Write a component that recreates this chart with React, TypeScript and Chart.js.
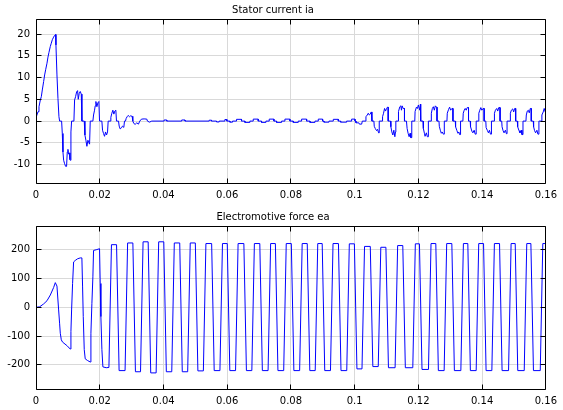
import React, { useEffect, useRef } from 'react';
import { Chart, registerables } from 'chart.js';

Chart.register(...registerables);

// ---------- axis ticks ----------
const xTicks = [0, 0.02, 0.04, 0.06, 0.08, 0.1, 0.12, 0.14, 0.16];
const xTickLabels = ['0', '0.02', '0.04', '0.06', '0.08', '0.1', '0.12', '0.14', '0.16'];
const iaTicks = [-10, -5, 0, 5, 10, 15, 20];
const emfTicks = [-200, -100, 0, 100, 200];
const iaRange = [-14.23, 23.46];
const emfRange = [-284, 283];

const iaTitle = 'Stator current ia';
const emfTitle = 'Electromotive force ea';

// ---------- stator current ia : [time s, current A] ----------
const iaStartup: [number, number][] = [
  [0, 0], [0.0001, 1.0], [0.00063, 2.15], [0.00094, 3.3], [0.00136, 4.85], [0.00167, 5.6],
  [0.00198, 7.15], [0.0024, 9.1], [0.00271, 10.6], [0.00303, 11.8], [0.00345, 13.3],
  [0.00376, 14.7], [0.00407, 15.8], [0.00449, 17.15], [0.0048, 17.9], [0.00512, 18.7],
  [0.00553, 19.3], [0.00585, 19.7], [0.00616, 19.9], [0.00626, 17.5], [0.00658, 10.6],
  [0.00689, 5.2], [0.0072, 1.0], [0.00741, 0], [0.00804, 0], [0.00825, -2.85], [0.00846, -7.1],
  [0.00867, -9.0], [0.00898, -9.8], [0.00929, -10.4], [0.0096, -10.4], [0.00981, -7.1],
  [0.01002, -6.5], [0.01023, -7.6], [0.01044, -7.3], [0.01065, -8.85], [0.01075, -9.0],
  [0.01096, -2.5], [0.01117, 0], [0.0119, 0], [0.01211, 4.85], [0.01242, 5.6], [0.01274, 6.7],
  [0.01305, 7.0], [0.01326, 5.0], [0.01357, 6.4], [0.01389, 6.8], [0.0142, 6.2], [0.01441, 0],
  [0.01514, 0], [0.01535, -3.2], [0.01566, -4.4], [0.01597, -5.8], [0.01629, -4.4], [0.0166, -5.0],
  [0.01681, -5.3], [0.01702, 0], [0.01785, 0], [0.01806, 1.4], [0.01837, 2.5], [0.01858, 3.5],
  [0.01879, 4.5], [0.0191, 3.3], [0.01942, 4.2], [0.01973, 4.5], [0.01994, 0], [0.02067, 0],
  [0.02088, -2.1], [0.02119, -2.85], [0.02151, -3.5], [0.02182, -2.5], [0.02213, -3.2],
  [0.02245, -2.5], [0.02265, 0], [0.02328, 0], [0.02349, 0.85], [0.0238, 1.8], [0.02412, 2.5],
  [0.02443, 1.6], [0.02474, 2.3], [0.02506, 2.5], [0.02526, 0], [0.02589, 0], [0.0261, -1.15],
  [0.02641, -1.8], [0.02683, -1.55], [0.02714, -1.15], [0.02756, -1.45], [0.02777, 0],
  [0.02808, 0], [0.02829, 0.6], [0.0286, 1.0], [0.02892, 1.3], [0.02934, 1.0], [0.02965, 1.2],
  [0.03017, 1.1], [0.03038, 0], [0.0307, -0.55], [0.03111, -0.75], [0.03163, -0.4],
  [0.03215, -0.7], [0.03257, 0], [0.0331, 0.45], [0.03393, 0.5], [0.03477, 0.45], [0.03497, 0],
  [0.0356, -0.25], [0.03633, 0], [0.04020, 0], [0.04020, 0.25], [0.04103, 0.25], [0.04103, 0],
  [0.04572, 0], [0.04572, 0.25], [0.04677, 0.25], [0.04677, 0],
];

const iaIdleRipple: [number, number][] = [
  [0.05435, 0], [0.05435, 0.2], [0.05508, 0.2], [0.05508, 0],
  [0.05665, 0], [0.05665, -0.2], [0.05749, -0.2], [0.05749, 0],
  [0.05927, 0], [0.05927, 0.35], [0.0599, 0.35], [0.0599, 0],
  [0.06084, 0], [0.06084, -0.25], [0.06168, -0.25], [0.06168, 0],
  [0.06293, 0], [0.06293, 0.4], [0.0645, 0.4], [0.0645, 0],
  [0.06555, 0], [0.06555, -0.3], [0.06712, -0.3], [0.06712, 0],
  [0.06817, 0], [0.06817, 0.45], [0.06974, 0.45], [0.06974, 0],
  [0.07078, 0], [0.07078, -0.3], [0.07215, -0.3], [0.07215, 0],
  [0.07319, 0], [0.07319, 0.45], [0.07466, 0.45], [0.07466, 0],
  [0.0755, 0], [0.0755, -0.3], [0.07707, -0.3], [0.07707, 0],
  [0.07811, 0], [0.07811, 0.45], [0.07968, 0.45], [0.07968, 0],
  [0.08073, 0], [0.08073, -0.3], [0.0823, -0.3], [0.0823, 0],
  [0.08335, 0], [0.08335, 0.45], [0.08492, 0.45], [0.08492, 0],
  [0.08597, 0], [0.08597, -0.3], [0.08754, -0.3], [0.08754, 0],
  [0.08858, 0], [0.08858, 0.45], [0.08994, 0.45], [0.08994, 0],
  [0.09036, 0], [0.09036, -0.25], [0.09193, -0.25], [0.09193, 0],
  [0.09329, 0], [0.09329, 0.4], [0.09487, 0.4], [0.09487, 0],
  [0.0956, 0], [0.0956, -0.25], [0.09748, -0.25], [0.09748, 0],
  [0.09905, 0], [0.09905, 0.45], [0.1001, 0.45], [0.1001, 0],
  [0.10041, 0], [0.10041, -0.4], [0.1013, -0.4], [0.1015, -0.7], [0.10219, -0.7], [0.1024, 0],
];

const iaLoaded: [number, number][] = [
  [0.10354, 0], [0.10354, 1.0], [0.10396, 1.4], [0.10427, 1.8], [0.10459, 1.4], [0.1049, 1.6], [0.10521, 2.1], [0.10542, 2.1], [0.10542, 0],
  [0.10604, 0], [0.10615, -1.2], [0.10646, -1.7], [0.10688, -2.2], [0.10719, -1.9], [0.1075, -2.7], [0.10771, -2.7], [0.10771, 0],
  [0.10875, 0], [0.10875, 1.0], [0.10906, 1.8], [0.10938, 2.9], [0.10969, 2.3], [0.11, 2.9], [0.11031, 3.2], [0.11052, 3.2], [0.11052, 0],
  [0.11125, 0], [0.11136, -1.3], [0.11167, -2.5], [0.11198, -3.2], [0.11229, -2.1], [0.11261, -3.6], [0.11281, -2.5], [0.11292, -2.5], [0.11292, 0],
  [0.11365, 0], [0.11375, 2.2], [0.11417, 3.3], [0.11448, 3.5], [0.11469, 2.5], [0.1149, 3.5], [0.11521, 2.9], [0.11563, 2.9], [0.11563, 0],
  [0.11625, 0], [0.11646, -1.7], [0.11677, -2.8], [0.11709, -3.6], [0.1174, -2.8], [0.11761, -3.8], [0.11792, -3.8], [0.11792, 0],
  [0.11886, 0], [0.11896, 2.2], [0.11938, 3.2], [0.11969, 2.9], [0.12, 3.7], [0.12042, 2.5], [0.12063, 3.9], [0.12073, 3.9], [0.12073, 0],
  [0.12146, 0], [0.12156, -1.7], [0.12188, -2.8], [0.12209, -3.5], [0.1225, -2.7], [0.12281, -3.6], [0.12313, -3.6], [0.12313, 0],
  [0.12396, 0], [0.12406, 1.8], [0.12438, 2.9], [0.12469, 3.3], [0.125, 2.5], [0.12531, 3.5], [0.12563, 3.2], [0.12584, 3.2], [0.12584, 0],
  [0.12646, 0], [0.12656, -1.2], [0.12688, -2.1], [0.12719, -2.8], [0.1275, -2.5], [0.12781, -3.0], [0.12813, -3.0], [0.12813, 0],
  [0.12896, 0], [0.12906, 1.8], [0.12948, 2.7], [0.12979, 3.2], [0.13011, 2.5], [0.13052, 2.9], [0.13084, 2.9], [0.13084, 0],
  [0.13157, 0], [0.13167, -1.3], [0.13209, -2.2], [0.1324, -2.8], [0.13271, -2.5], [0.13292, -3.1], [0.13323, -3.1], [0.13323, 0],
  [0.13396, 0], [0.13407, 1.8], [0.13438, 2.5], [0.13469, 2.9], [0.135, 2.5], [0.13532, 3.1], [0.13573, 3.1], [0.13573, 0],
  [0.13625, 0], [0.13636, -1.3], [0.13677, -2.3], [0.13709, -2.7], [0.1375, -2.1], [0.13782, -3.0], [0.13813, -3.0], [0.13813, 0],
  [0.13886, 0], [0.13896, 1.8], [0.13927, 2.5], [0.13959, 3.1], [0.1399, 2.5], [0.14032, 2.9], [0.14063, 2.9], [0.14063, 0],
  [0.14115, 0], [0.14125, -1.5], [0.14167, -2.2], [0.14198, -2.7], [0.14229, -2.1], [0.14261, -3.0], [0.14292, -3.0], [0.14292, 0],
  [0.14375, 0], [0.14386, 1.8], [0.14417, 2.5], [0.14459, 2.9], [0.1449, 2.3], [0.14521, 3.1], [0.14563, 3.1], [0.14563, 0],
  [0.14615, 0], [0.14625, -1.3], [0.14657, -2.2], [0.14688, -2.7], [0.1473, -2.1], [0.14761, -2.9], [0.14782, -2.9], [0.14782, 0],
  [0.14875, 0], [0.14886, 1.8], [0.14917, 2.5], [0.14959, 2.8], [0.1499, 2.1], [0.15021, 2.9], [0.15052, 2.9], [0.15052, 0],
  [0.15104, 0], [0.15115, -1.3], [0.15157, -2.2], [0.15188, -2.7], [0.1523, -2.1], [0.1525, -3.1], [0.15282, -3.1], [0.15282, 0],
  [0.15375, 0], [0.15386, 1.4], [0.15417, 2.3], [0.15448, 2.5], [0.1548, 1.9], [0.15511, 2.9], [0.15542, 2.9], [0.15542, 0],
  [0.15605, 0], [0.15615, -1.3], [0.15646, -2.2], [0.15678, -2.7], [0.15719, -2.1], [0.1575, -3.0], [0.15782, -3.0], [0.15782, 0],
  [0.15865, 0], [0.15875, 1.4], [0.15917, 2.1], [0.15948, 2.9], [0.1598, 2.1], [0.16, 2.6],
];

// ---------- electromotive force ea : [time s, emf V] ----------
const emfStartup: [number, number][] = [
  [0, 0], [0.00115, 2], [0.0024, 12], [0.00345, 23], [0.0045, 43], [0.00553, 69], [0.00606, 86],
  [0.00658, 74], [0.0071, -9], [0.0074, -55], [0.00762, -90], [0.00794, -113], [0.00835, -121],
  [0.0097, -133], [0.01075, -145], [0.01096, -84], [0.01117, -9], [0.01148, 83], [0.0118, 158],
  [0.0123, 163], [0.01305, 169], [0.01389, 172], [0.0144, 172], [0.01462, 71], [0.01483, -32],
  [0.01514, -147], [0.01545, -179], [0.01618, -185], [0.01702, -190], [0.01723, -90],
  [0.01754, 14], [0.01785, 106], [0.01806, 198], [0.0191, 201], [0.01994, 204], [0.02015, 83],
  [0.02036, -32], [0.02068, -147], [0.02099, -207], [0.02203, -210], [0.02288, -209],
];

const emfSteady: [number, number][] = [
  [0.02368, 218], [0.02528, 218], [0.02608, -220], [0.02795, -220], [0.02875, 224], [0.0304, 224],
  [0.0312, -224], [0.0328, -224], [0.0336, 228], [0.0352, 228], [0.036, -228], [0.0377, -228],
  [0.0385, 228], [0.0401, 228], [0.0409, -224], [0.0426, -224], [0.0434, 224], [0.0451, 224],
  [0.0459, -224], [0.0476, -224], [0.0484, 224], [0.05, 224], [0.0508, -221], [0.05252, -221],
  [0.05332, 222], [0.05512, 222], [0.05592, -220], [0.05772, -220], [0.05852, 222], [0.06002, 222],
  [0.06082, -220], [0.06262, -220], [0.06342, 222], [0.06523, 222], [0.06603, -220], [0.06773, -220],
  [0.06853, 222], [0.07023, 222], [0.07103, -220], [0.07283, -220], [0.07363, 222], [0.07512, 222],
  [0.07592, -220], [0.07773, -220], [0.07853, 222], [0.08012, 222], [0.08092, -220], [0.08273, -220],
  [0.08353, 222], [0.08512, 222], [0.08592, -220], [0.08762, -220], [0.08842, 222], [0.08981, 222],
  [0.09061, -220], [0.09241, -220], [0.09321, 222], [0.09491, 222], [0.09571, -220], [0.09752, -220],
  [0.09832, 221], [0.09991, 221], [0.10071, -214], [0.1023, -214], [0.1031, 212], [0.1049, 212],
  [0.1057, -206], [0.1074, -206], [0.1082, 209], [0.1098, 209], [0.1106, -210], [0.11269, -210],
  [0.11349, 215], [0.1151, 215], [0.1159, -210], [0.11824, -210], [0.11904, 221], [0.12033, 221],
  [0.12113, -216], [0.12316, -216], [0.12396, 222], [0.12546, 222], [0.12626, -220], [0.12808, -220],
  [0.12888, 222], [0.13049, 222], [0.13129, -220], [0.13332, -220], [0.13412, 222], [0.13551, 222],
  [0.13631, -220], [0.13813, -220], [0.13893, 222], [0.14044, 222], [0.14124, -220], [0.14305, -220],
  [0.14385, 222], [0.14546, 222], [0.14626, -220], [0.14829, -220], [0.14909, 222], [0.15038, 222],
  [0.15118, -220], [0.15321, -220], [0.15401, 222], [0.1553, 222], [0.1561, -220], [0.15824, -220],
  [0.15904, 222], [0.16, 222],
];

const FONT = "'DejaVu Sans', sans-serif";

const alignPx = (p: number) => Math.round(p - 0.5) + 0.5;

const boxPlugin = {
  id: 'matlabBox',
  afterDraw(chart: any) {
    const { ctx, chartArea: a } = chart;
    const L = alignPx(a.left), R = alignPx(a.right), T = alignPx(a.top), B = alignPx(a.bottom);
    const xs = chart.scales.x, ys = chart.scales.y;
    ctx.save();
    ctx.strokeStyle = '#000';
    ctx.lineWidth = 1;
    ctx.beginPath();
    ctx.rect(L, T, R - L, B - T);
    xs.ticks.forEach((t: any) => {
      const px = alignPx(xs.getPixelForValue(t.value));
      ctx.moveTo(px, B); ctx.lineTo(px, B - 5);
      ctx.moveTo(px, T); ctx.lineTo(px, T + 5);
    });
    ys.ticks.forEach((t: any) => {
      const py = alignPx(ys.getPixelForValue(t.value));
      ctx.moveTo(L, py); ctx.lineTo(L + 5, py);
      ctx.moveTo(R, py); ctx.lineTo(R - 5, py);
    });
    ctx.stroke();
    ctx.restore();
  },
};

function makeConfig(
  title: string,
  points: [number, number][],
  yRange: number[],
  yTicks: number[],
  titlePad: { top: number; bottom: number },
  xAxisHeight: number,
): any {
  return {
    type: 'line',
    data: {
      datasets: [
        {
          data: points.map(([x, y]) => ({ x, y })),
          borderColor: '#0000ff',
          borderWidth: 1,
          pointRadius: 0,
          tension: 0,
          fill: false,
        },
      ],
    },
    options: {
      animation: false,
      responsive: false,
      maintainAspectRatio: false,
      devicePixelRatio: 1,
      events: [],
      layout: { padding: { left: 0, right: 17, top: 0, bottom: 0 } },
      plugins: {
        legend: { display: false },
        tooltip: { enabled: false },
        title: {
          display: true,
          text: title,
          color: '#000',
          font: { family: FONT, size: 10, weight: 'normal' },
          padding: titlePad,
        },
      },
      scales: {
        x: {
          type: 'linear',
          min: 0,
          max: 0.16,
          afterBuildTicks: (s: any) => {
            s.ticks = xTicks.map((v) => ({ value: v }));
          },
          afterFit: (s: any) => {
            s.height = xAxisHeight;
          },
          ticks: {
            callback: (_v: any, i: number) => xTickLabels[i],
            color: '#000',
            padding: 6,
            maxRotation: 0,
            autoSkip: false,
            font: { family: FONT, size: 10 },
          },
          grid: { color: '#d9d9d9', drawTicks: false, lineWidth: 1 },
          border: { display: false },
        },
        y: {
          type: 'linear',
          min: yRange[0],
          max: yRange[1],
          afterBuildTicks: (s: any) => {
            s.ticks = yTicks.map((v) => ({ value: v }));
          },
          afterFit: (s: any) => {
            s.width = 36;
          },
          ticks: {
            callback: (v: any) => String(v),
            color: '#000',
            padding: 6,
            autoSkip: false,
            font: { family: FONT, size: 10 },
          },
          grid: { color: '#d9d9d9', drawTicks: false, lineWidth: 1 },
          border: { display: false },
        },
      },
    },
    plugins: [boxPlugin],
  };
}

export default function App() {
  const topRef = useRef<HTMLCanvasElement | null>(null);
  const botRef = useRef<HTMLCanvasElement | null>(null);

  useEffect(() => {
    Chart.defaults.font.family = FONT;
    Chart.defaults.font.size = 10;
    Chart.defaults.color = '#000';
    const iaPoints = [...iaStartup, ...iaIdleRipple, ...iaLoaded];
    const emfPoints = [...emfStartup, ...emfSteady];
    const c1 = new Chart(
      topRef.current as HTMLCanvasElement,
      makeConfig(iaTitle, iaPoints, iaRange, iaTicks, { top: 4, bottom: 3 }, 22),
    );
    const c2 = new Chart(
      botRef.current as HTMLCanvasElement,
      makeConfig(emfTitle, emfPoints, emfRange, emfTicks, { top: 6, bottom: 3 }, 21),
    );
    return () => {
      c1.destroy();
      c2.destroy();
    };
  }, []);

  return (
    <div
      style={{
        position: 'absolute',
        left: 0,
        top: 0,
        width: 563,
        height: 410,
        background: '#ffffff',
        overflow: 'hidden',
      }}
    >
      <canvas
        ref={topRef}
        width={563}
        height={205}
        style={{ position: 'absolute', left: 0, top: 0, width: 563, height: 205 }}
      />
      <canvas
        ref={botRef}
        width={563}
        height={205}
        style={{ position: 'absolute', left: 0, top: 205, width: 563, height: 205 }}
      />
    </div>
  );
}
